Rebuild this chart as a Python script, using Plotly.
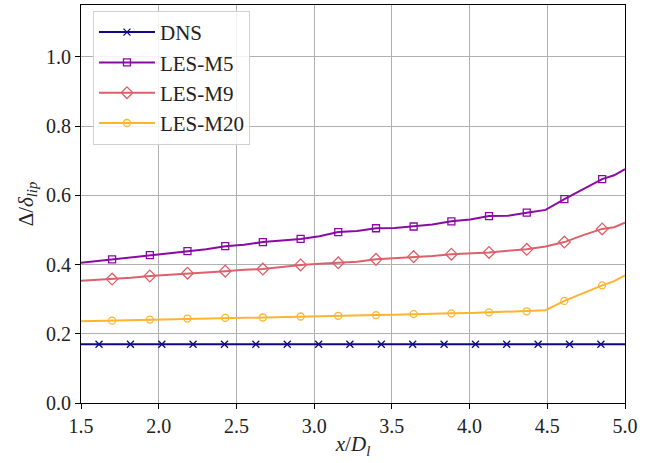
import plotly.graph_objects as go

# ---------------- data ----------------
les_x = [1.5, 1.700, 1.821, 1.943, 2.064, 2.185, 2.306, 2.428, 2.549, 2.670, 2.791,
         2.913, 3.034, 3.155, 3.276, 3.398, 3.519, 3.640, 3.761, 3.883, 4.004,
         4.125, 4.246, 4.368, 4.489, 4.610, 4.731, 4.853, 4.930, 5.0]

les_m5 = [0.405, 0.415, 0.420, 0.427, 0.432, 0.439, 0.444, 0.453, 0.457, 0.465, 0.469,
          0.474, 0.482, 0.494, 0.497, 0.505, 0.506, 0.510, 0.516, 0.525, 0.530,
          0.540, 0.541, 0.550, 0.558, 0.589, 0.617, 0.647, 0.658, 0.676]

les_m9 = [0.353, 0.358, 0.362, 0.367, 0.370, 0.375, 0.377, 0.381, 0.385, 0.387, 0.393,
          0.399, 0.402, 0.405, 0.408, 0.415, 0.418, 0.423, 0.425, 0.430, 0.432,
          0.435, 0.440, 0.444, 0.452, 0.465, 0.485, 0.503, 0.508, 0.521]

les_m20 = [0.236, 0.238, 0.239, 0.241, 0.242, 0.244, 0.245, 0.246, 0.246, 0.247, 0.249,
           0.250, 0.251, 0.252, 0.253, 0.254, 0.255, 0.257, 0.258, 0.259, 0.260,
           0.262, 0.263, 0.265, 0.268, 0.295, 0.318, 0.340, 0.352, 0.369]

# indices of points carrying markers
les_marker_idx = [1, 3, 5, 7, 9, 11, 13, 15, 17, 19, 21, 23, 25, 27]

dns_x = [1.5, 1.616, 1.818, 2.020, 2.221, 2.423, 2.625, 2.827, 3.029, 3.230,
         3.432, 3.634, 3.836, 4.038, 4.239, 4.441, 4.643, 4.845, 5.0]
dns_y = [0.170] * len(dns_x)
dns_marker_idx = list(range(1, 18))

x_ticks = [1.5, 2.0, 2.5, 3.0, 3.5, 4.0, 4.5, 5.0]
y_ticks = [0.0, 0.2, 0.4, 0.6, 0.8, 1.0]

series = [
    ("DNS", dns_x, dns_y, dns_marker_idx, "#0d0887", "x-thin-open", 7),
    ("LES-M5", les_x, les_m5, les_marker_idx, "#8b0aa5", "square-open", 7),
    ("LES-M9", les_x, les_m9, les_marker_idx, "#df5f6a", "diamond-open", 9),
    ("LES-M20", les_x, les_m20, les_marker_idx, "#fdb42f", "circle-open", 7),
]

FONT = "Liberation Serif"

fig = go.Figure()
for name, xs, ys, idx, color, sym, ms in series:
    fig.add_trace(go.Scatter(x=xs, y=ys, mode="lines", line=dict(color=color, width=2),
                             showlegend=False, legendgroup=name, hoverinfo="skip"))
    fig.add_trace(go.Scatter(x=[xs[i] for i in idx], y=[ys[i] for i in idx], mode="markers",
                             marker=dict(symbol=sym, size=ms, color=color,
                                         line=dict(color=color, width=1.3)),
                             showlegend=False, legendgroup=name))
    fig.add_trace(go.Scatter(x=[None], y=[None], mode="lines+markers", name=name,
                             line=dict(color=color, width=2),
                             marker=dict(symbol=sym, size=ms, color=color,
                                         line=dict(color=color, width=1.3)),
                             legendgroup=name))

axis_common = dict(showline=True, linecolor="black", linewidth=1.2, mirror=True,
                   ticks="outside", ticklen=5, tickwidth=1.2, tickcolor="black",
                   showgrid=True, gridcolor="#b0b0b0", gridwidth=1, zeroline=False,
                   tickfont=dict(family=FONT, size=20, color="#222"))

fig.update_xaxes(range=[1.5, 5.0], tickvals=x_ticks,
                 ticktext=[f"{v:.1f}" for v in x_ticks],
                 title=dict(text="<i>x</i>/<i>D</i><sub><i>l</i></sub>",
                            font=dict(family=FONT, size=21, color="#222"), standoff=0),
                 **axis_common)
fig.update_yaxes(range=[0, 1.15], tickvals=y_ticks,
                 ticktext=[f"{v:.1f}" for v in y_ticks],
                 title=dict(text="Δ/<i>δ</i><sub><i>lip</i></sub>",
                            font=dict(family=FONT, size=21, color="#222"), standoff=6),
                 **axis_common)

fig.update_layout(
    width=665, height=463,
    margin=dict(l=81, r=40, t=5, b=60, autoexpand=False),
    plot_bgcolor="white", paper_bgcolor="white",
    legend=dict(x=0.022, y=0.985, xanchor="left", yanchor="top",
                bgcolor="rgba(255,255,255,0.85)", bordercolor="#d0d0d0", borderwidth=1,
                font=dict(family=FONT, size=21, color="#222"), tracegroupgap=0,
                itemwidth=56),
)

fig.write_html("out.html", config={"displayModeBar": False},
               post_script="document.body.style.margin='0';document.body.style.overflow='hidden';")
